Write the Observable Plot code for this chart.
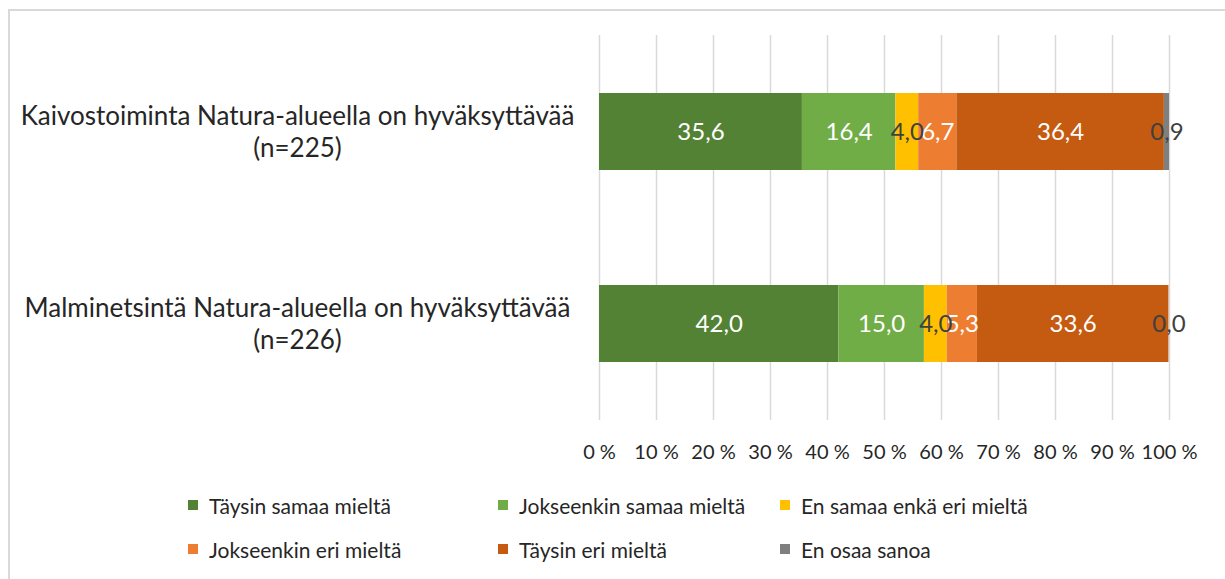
<!DOCTYPE html>
<html>
<head>
<meta charset="utf-8">
<script src="https://cdn.jsdelivr.net/npm/d3@7"></script>
<script src="https://cdn.jsdelivr.net/npm/@observablehq/plot@0.6"></script>
<style>
  html, body { margin: 0; padding: 0; background: #fff; }
  body { width: 1225px; height: 579px; position: relative; overflow: hidden; font-family: Lato, "Open Sans", sans-serif; color: #262626; }
  #frame { position: absolute; left: 8px; top: 9px; width: 1300px; height: 700px; border-top: 2px solid #d9d9d9; border-left: 2px solid #d9d9d9; pointer-events: none; }
  #chart { position: absolute; left: 0; top: 0; }
  .legend-item { position: absolute; display: flex; align-items: center; font-size: 21px; white-space: nowrap; height: 28px; }
  .legend-item .sw { width: 10px; height: 10px; margin-right: 11px; flex: none; }
</style>
</head>
<body>
<div id="frame"></div>
<div id="chart"></div>
<div id="legend"></div>
<script>
// ---- data ----
const statements = [
  "Kaivostoiminta Natura-alueella on hyväksyttävää\n(n=225)",
  "Malminetsintä Natura-alueella on hyväksyttävää\n(n=226)"
];
const responses = [
  "Täysin samaa mieltä",
  "Jokseenkin samaa mieltä",
  "En samaa enkä eri mieltä",
  "Jokseenkin eri mieltä",
  "Täysin eri mieltä",
  "En osaa sanoa"
];
const kaivosValues = [35.6, 16.4, 4.0, 6.7, 36.4, 0.9];
const malmiValues  = [42.0, 15.0, 4.0, 5.3, 33.6, 0.0];
const xTicks = [0, 10, 20, 30, 40, 50, 60, 70, 80, 90, 100];

// ---- styles ----
const colors = ["#548235", "#70ad47", "#ffc000", "#ed7d31", "#c55a11", "#7f7f7f"];
const darkLabelResponses = ["En samaa enkä eri mieltä", "En osaa sanoa"];

const seriesByStatement = [kaivosValues, malmiValues];
const data = [];
statements.forEach((s, i) => {
  responses.forEach((r, j) => {
    data.push({statement: s, response: r, value: seriesByStatement[i][j]});
  });
});
const fmt = v => v.toFixed(1).replace(".", ",");
const isDark = d => darkLabelResponses.includes(d.response);

const chart = Plot.plot({
  width: 1225,
  height: 475,
  marginLeft: 599,
  marginRight: 56,
  marginTop: 35,
  marginBottom: 55,
  style: {fontFamily: "Lato, 'Open Sans', sans-serif", background: "transparent", color: "#262626", overflow: "visible"},
  x: {domain: [0, 100]},
  y: {domain: statements, paddingInner: 0.6, paddingOuter: 0.3},
  color: {domain: responses, range: colors},
  marks: [
    Plot.gridX(xTicks, {stroke: "#d9d9d9", strokeOpacity: 1, strokeWidth: 1.5}),
    Plot.barX(data, {x: "value", y: "statement", fill: "response"}),
    Plot.text(data, Plot.stackX({x: "value", y: "statement", text: d => isDark(d) ? null : fmt(d.value), fill: "#ffffff", fontSize: 24})),
    Plot.text(data, Plot.stackX({x: "value", y: "statement", text: d => isDark(d) ? fmt(d.value) : null, fill: "#404040", fontSize: 24})),
    Plot.axisX({ticks: xTicks, tickFormat: d => `${d} %`, tickSize: 0, tickPadding: 24, fontSize: 20, label: null}),
    Plot.axisY({tickSize: 0, tickPadding: 302, textAnchor: "middle", fontSize: 26, lineHeight: 1.23, dy: -1, label: null})
  ]
});
document.getElementById("chart").appendChild(chart);

// ---- legend ----
const colLeft = [188, 498, 780];
const rowCenter = [505, 549];
const legend = document.getElementById("legend");
responses.forEach((r, i) => {
  const item = document.createElement("div");
  item.className = "legend-item";
  item.style.left = colLeft[i % 3] + "px";
  item.style.top = (rowCenter[Math.floor(i / 3)] - 14) + "px";
  const sw = document.createElement("span");
  sw.className = "sw";
  sw.style.background = colors[i];
  const tx = document.createElement("span");
  tx.textContent = r;
  item.appendChild(sw);
  item.appendChild(tx);
  legend.appendChild(item);
});
</script>
</body>
</html>
